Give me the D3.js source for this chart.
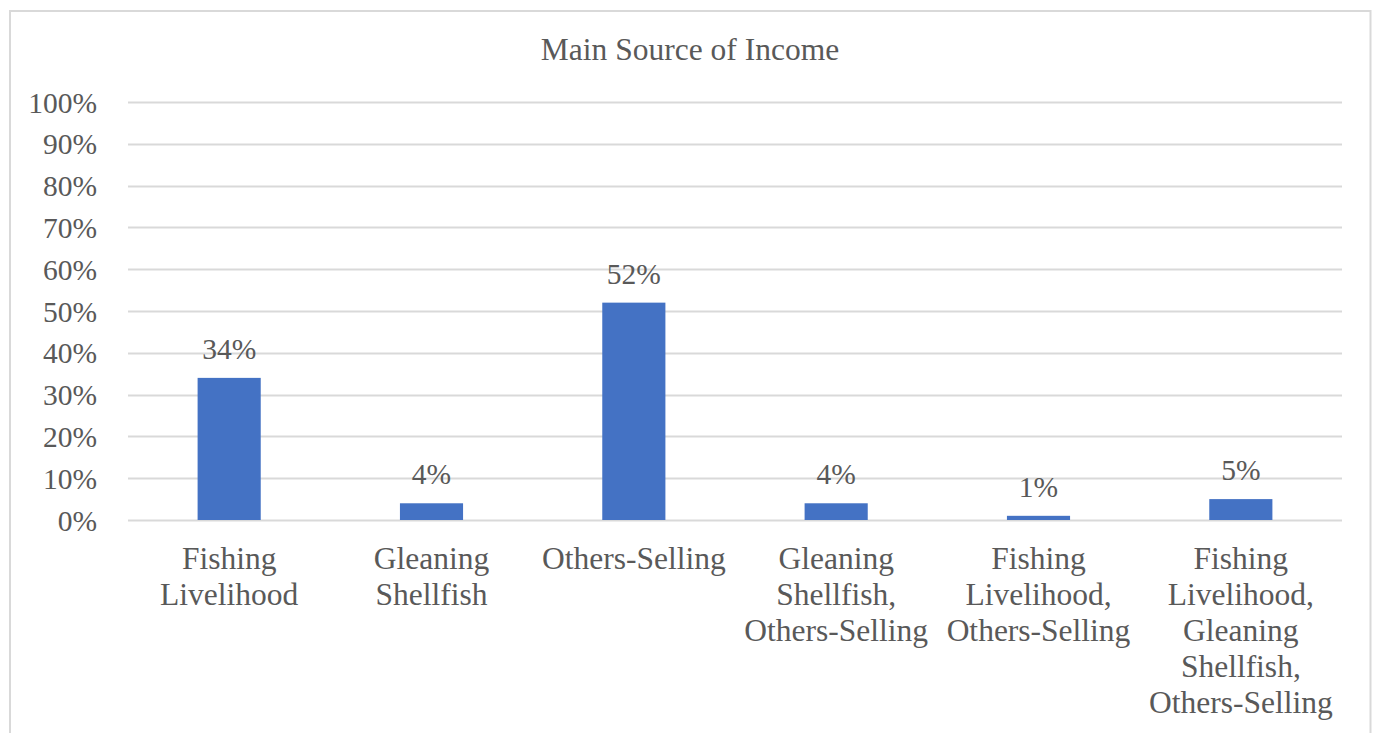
<!DOCTYPE html>
<html>
<head>
<meta charset="utf-8">
<script src="https://cdn.jsdelivr.net/npm/d3@7/dist/d3.min.js"></script>
<style>
  html, body { margin: 0; padding: 0; background: #fff; }
  svg { display: block; }
  svg text { font-family: "Liberation Serif", "Times New Roman", serif !important; fill: #595959; }
</style>
</head>
<body>
<svg id="chart" width="1376" height="733"></svg>
<script>
// Chart content
const chartTitle = "Main Source of Income";
const categories = [
  "Fishing Livelihood",
  "Gleaning Shellfish",
  "Others-Selling",
  "Gleaning Shellfish, Others-Selling",
  "Fishing Livelihood, Others-Selling",
  "Fishing Livelihood, Gleaning Shellfish, Others-Selling"
];
const shares = [0.34, 0.04, 0.52, 0.04, 0.01, 0.05];
const yTicks = [0, 0.1, 0.2, 0.3, 0.4, 0.5, 0.6, 0.7, 0.8, 0.9, 1.0];

const svg = d3.select("#chart");
const W = 1376, H = 733;
const margin = { left: 128, right: 34, top: 102, bottom: 213 };
const plotW = W - margin.left - margin.right;
const plotH = H - margin.top - margin.bottom;
const serif = "'Liberation Serif', 'Times New Roman', serif";

// Outer frame (open at the bottom edge of the window)
svg.append("path")
  .attr("d", `M10,${H + 2} V11 H1370.5 V${H + 2}`)
  .attr("fill", "none")
  .attr("stroke", "#d9d9d9")
  .attr("stroke-width", 2);

// Title
svg.append("text")
  .attr("x", 690)
  .attr("y", 60)
  .attr("text-anchor", "middle")
  .style("font-family", serif)
  .attr("font-size", 31.5)
  .text(chartTitle);

const g = svg.append("g").attr("transform", `translate(${margin.left},${margin.top})`);

const x = d3.scaleBand()
  .domain(categories)
  .range([0, plotW])
  .paddingInner(0.688)
  .paddingOuter(0.344);

const y = d3.scaleLinear().domain([0, 1]).range([plotH, 0]);

// Horizontal gridlines
g.append("g")
  .selectAll("line")
  .data(yTicks)
  .join("line")
  .attr("x1", 0)
  .attr("x2", plotW)
  .attr("y1", d => Math.round(y(d)) + 0.5)
  .attr("y2", d => Math.round(y(d)) + 0.5)
  .attr("stroke", "#d9d9d9")
  .attr("stroke-width", 2);

// Y axis labels
const yAxis = d3.axisLeft(y)
  .tickValues(yTicks)
  .tickFormat(d3.format(".0%"))
  .tickSize(0)
  .tickPadding(31);
const yg = g.append("g").call(yAxis);
yg.attr("font-family", null).attr("font-size", null);
yg.select(".domain").remove();
yg.selectAll("text")
  .style("font-family", serif)
  .attr("font-size", 29.5)
  .attr("fill", "#595959")
  .attr("dy", "0.34em");

// Bars
g.append("g")
  .selectAll("rect")
  .data(shares)
  .join("rect")
  .attr("x", (d, i) => x(categories[i]))
  .attr("width", x.bandwidth())
  .attr("y", d => y(d))
  .attr("height", d => plotH - y(d))
  .attr("fill", "#4472c4");

// Value labels above bars
g.append("g")
  .selectAll("text")
  .data(shares)
  .join("text")
  .attr("x", (d, i) => x(categories[i]) + x.bandwidth() / 2)
  .attr("y", d => y(d) - 19)
  .attr("text-anchor", "middle")
  .style("font-family", serif)
  .attr("font-size", 29.5)
  .text(d => d3.format(".0%")(d));

// Category labels, word-wrapped to the band step width
const step = x.step();
const measurer = svg.append("text").style("font-family", serif).attr("font-size", 31.5).attr("visibility", "hidden");
function wrapWords(label, maxW) {
  const words = label.split(" ");
  const lines = [];
  let cur = "";
  words.forEach(w => {
    const trial = cur ? cur + " " + w : w;
    measurer.text(trial);
    if (cur && measurer.node().getComputedTextLength() > maxW) {
      lines.push(cur);
      cur = w;
    } else {
      cur = trial;
    }
  });
  if (cur) lines.push(cur);
  return lines;
}

const catG = g.append("g");
categories.forEach(c => {
  const lines = wrapWords(c, step - 8);
  const t = catG.append("text")
    .attr("x", x(c) + x.bandwidth() / 2)
    .attr("y", plotH + 49)
    .attr("text-anchor", "middle")
    .style("font-family", serif)
    .attr("font-size", 31.5);
  lines.forEach((ln, k) => {
    t.append("tspan")
      .attr("x", x(c) + x.bandwidth() / 2)
      .attr("dy", k === 0 ? 0 : 36)
      .text(ln);
  });
});
measurer.remove();
</script>
</body>
</html>
